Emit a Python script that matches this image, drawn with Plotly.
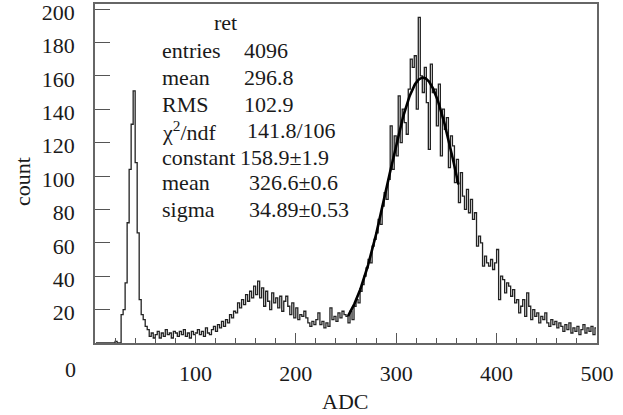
import math
import plotly.graph_objects as go

# ---- data ----
bin_width = 2
bin_centers = [1 + bin_width * i for i in range(250)]
counts = [
    # 0-20
    0, 0, 0, 0, 0, 0, 0, 0, 0, 0,
    # 20-40
    1, 0, 0, 17, 20, 36, 72, 104, 131, 151,
    # 40-60
    108, 66, 26, 17, 14, 10, 8, 4, 6, 3,
    # 60-80
    5, 7, 3, 6, 4, 8, 5, 6, 3, 7,
    # 80-100
    6, 4, 7, 5, 8, 4, 6, 3, 7, 5,
    # 100-120
    6, 8, 5, 7, 4, 9, 6, 5, 8, 10,
    # 120-140
    7, 11, 9, 13, 10, 14, 12, 17, 15, 19,
    # 140-160
    18, 24, 21, 26, 23, 29, 25, 31, 27, 34,
    # 160-180
    29, 37, 27, 33, 22, 31, 25, 20, 30, 24,
    # 180-200
    27, 21, 28, 19, 25, 28, 22, 17, 24, 15,
    # 200-220
    21, 14, 17, 16, 19, 15, 12, 10, 13, 11,
    # 220-240
    14, 18, 11, 13, 9, 12, 10, 21, 14, 16,
    # 240-260
    13, 18, 15, 19, 17, 16, 12, 19, 14, 22,
    # 260-280
    26, 24, 31, 35, 40, 45, 50, 48, 58, 62,
    # 280-300
    66, 74, 71, 82, 90, 86, 98, 130, 104, 124,
    # 300-320
    112, 148, 120, 140, 132, 125, 152, 170, 165, 172,
    # 320-340
    140, 195, 160, 150, 165, 144, 116, 167, 150, 152,
    # 340-360
    130, 155, 112, 140, 128, 135, 105, 124, 118, 96,
    # 360-380
    110, 84, 102, 88, 80, 92, 78, 86, 74, 78,
    # 380-400
    58, 64, 60, 46, 52, 48, 46, 50, 44, 48,
    # 400-420
    56, 26, 40, 38, 30, 36, 34, 28, 32, 24,
    # 420-440
    26, 18, 22, 26, 16, 30, 22, 14, 20, 16,
    # 440-460
    18, 12, 16, 14, 18, 12, 10, 14, 11, 13,
    # 460-480
    9, 12, 10, 7, 11, 8, 12, 6, 9, 7,
    # 480-500
    10, 5, 8, 11, 6, 9, 7, 10, 5, 9,
]

# gaussian fit parameters (from the stats box)
fit_constant = 158.9
fit_mean = 326.6
fit_sigma = 34.89
fit_range = (252, 362)

stat_labels = ["entries", "mean", "RMS", "χ<sup>2</sup>/ndf", "constant", "mean", "sigma"]
stat_values = ["4096", "296.8", "102.9", "141.8/106", "158.9±1.9", "326.6±0.6", "34.89±0.53"]
stats_title = "ret"

x_tickvals = [100, 200, 300, 400, 500]
x_ticktext = ["100", "200", "300", "400", "500"]
y_tickvals = [20, 40, 60, 80, 100, 120, 140, 160, 180, 200]

# ---- fit curve evaluated on a fine grid ----
fit_x = [fit_range[0] + 0.5 * i for i in range(int((fit_range[1] - fit_range[0]) / 0.5) + 1)]
fit_y = [fit_constant * math.exp(-0.5 * ((x - fit_mean) / fit_sigma) ** 2) for x in fit_x]

FONT = "Liberation Serif, Times New Roman, serif"
FS = 22
TXT = "#1a1a1a"

fig = go.Figure()
fig.add_trace(go.Scatter(
    x=bin_centers, y=counts, mode="lines", line=dict(shape="hvh", color="#222222", width=1.3),
    showlegend=False, hoverinfo="skip"))
fig.add_trace(go.Scatter(
    x=fit_x, y=fit_y, mode="lines", line=dict(color="black", width=2.6),
    showlegend=False, hoverinfo="skip"))

W, H = 623, 415
L, R, T, B = 95, 26, 4, 72
pw, ph = W - L - R, H - T - B

def px2paper(px, py):
    return (px - L) / pw, (H - B - py) / ph

annots = []
x0, y0 = px2paper(225, 22.7)
annots.append(dict(text=stats_title, x=x0, y=y0, xanchor="center", yanchor="middle"))
row_y = [50, 77.3, 104, 130.7, 157, 182.7, 209.3]
val_x = [241.5, 241.5, 241.5, 245, 237.5, 246.5, 246.5]
for lab, val, ry, vx in zip(stat_labels, stat_values, row_y, val_x):
    ax, ay = px2paper(160, ry)
    annots.append(dict(text=lab, x=ax, y=ay, xanchor="left", yanchor="middle"))
    bx, by = px2paper(vx, ry)
    annots.append(dict(text=val, x=bx, y=by, xanchor="left", yanchor="middle"))
zx, zy = px2paper(70, 369)
annots.append(dict(text="0", x=zx, y=zy, xanchor="center", yanchor="middle"))
tx, ty = px2paper(345, 402)
annots.append(dict(text="ADC", x=tx, y=ty, xanchor="center", yanchor="middle"))
cx, cy = px2paper(22, 182)
annots.append(dict(text="count", x=cx, y=cy, xanchor="center", yanchor="middle", textangle=-90))
for a in annots:
    a.update(xref="paper", yref="paper", showarrow=False, font=dict(family=FONT, size=FS, color=TXT))

fig.update_layout(
    width=W, height=H,
    margin=dict(l=L, r=R, t=T, b=B, pad=0, autoexpand=False),
    paper_bgcolor="white", plot_bgcolor="white",
    font=dict(family=FONT, size=FS, color=TXT),
    annotations=annots,
    xaxis=dict(
        range=[0, 500], tickmode="array", tickvals=x_tickvals, ticktext=x_ticktext,
        ticks="inside", ticklen=10, tickwidth=1.3, tickcolor="#555555",
        minor=dict(tickmode="linear", tick0=0, dtick=20, ticks="inside", ticklen=5, tickwidth=1.2, tickcolor="#555555"),
        showline=True, linecolor="#666666", linewidth=1.6, mirror=True,
        showgrid=False, zeroline=False, ticklabelstandoff=10, automargin=False,
        ticklabeloverflow="allow",
        tickfont=dict(family=FONT, size=FS, color=TXT),
    ),
    yaxis=dict(
        range=[0, 203], tickmode="array", tickvals=y_tickvals,
        ticks="inside", ticklen=15, tickwidth=1.3, tickcolor="#555555",
        showline=True, linecolor="#666666", linewidth=1.6, mirror=True,
        showgrid=False, zeroline=False, ticklabelstandoff=14, automargin=False,
        ticklabeloverflow="allow", ticklabelshift=3,
        tickfont=dict(family=FONT, size=FS, color=TXT),
    ),
)

fig.write_html(
    "out.html",
    config={"displayModeBar": False},
    post_script="document.body.style.margin='0px';document.body.style.overflow='hidden';",
)
